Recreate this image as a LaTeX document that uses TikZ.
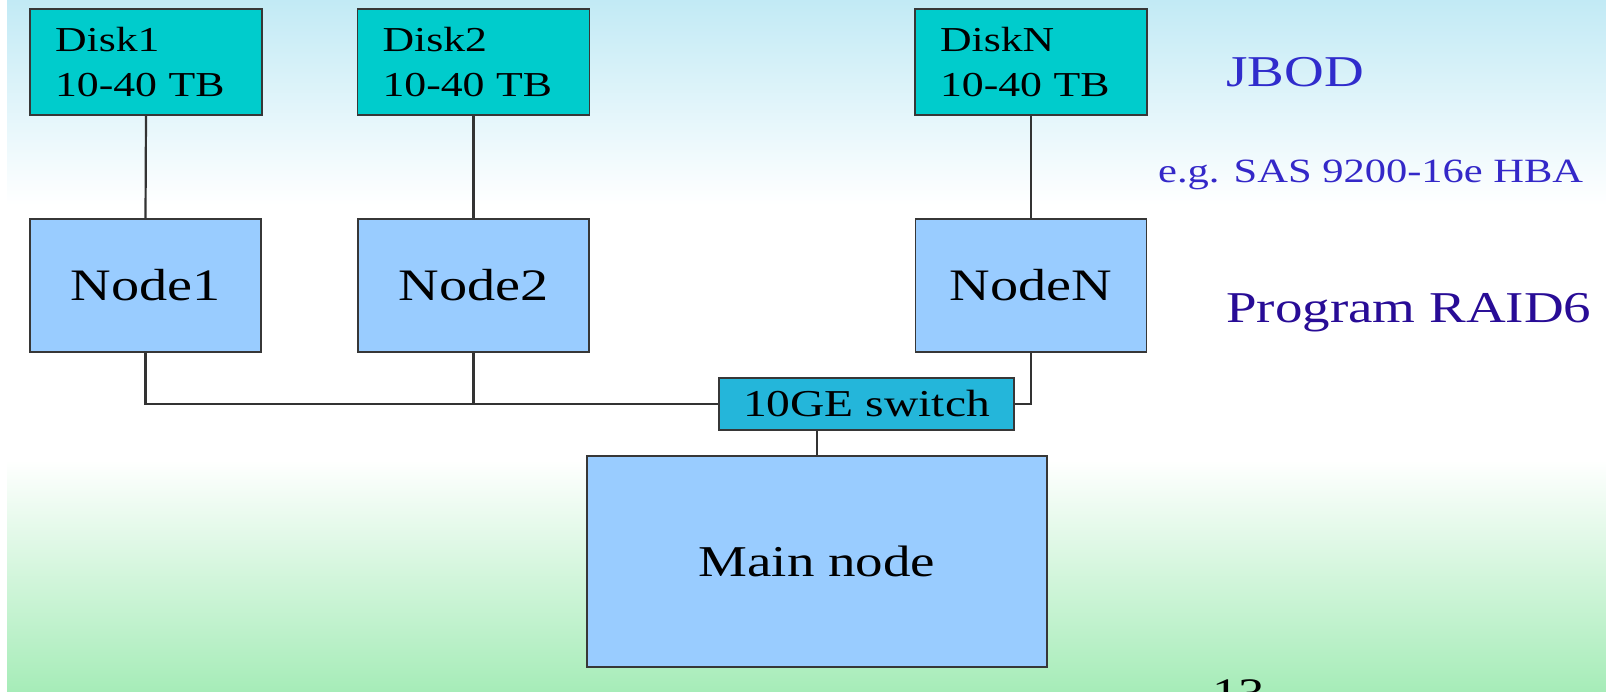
\documentclass[tikz,border=0pt]{standalone}
\usepackage{fontspec}
\newfontfamily\dfont[FakeStretch=1.25]{Liberation Serif}
\definecolor{diskc}{RGB}{0,204,204}
\definecolor{nodec}{RGB}{153,204,255}
\definecolor{swc}{RGB}{36,182,218}
\definecolor{edgec}{RGB}{55,55,55}
\definecolor{bgblue}{RGB}{194,234,245}
\definecolor{bggreen}{RGB}{166,236,184}
\definecolor{jbodc}{RGB}{48,44,204}
\definecolor{hbac}{RGB}{52,40,200}
\definecolor{raidc}{RGB}{40,12,150}
\tikzset{
  box/.style={draw=edgec, line width=1.8pt, inner sep=0pt},
  diskbox/.style={box, fill=diskc, minimum width=232pt, minimum height=106pt,
    text width=182pt, inner xsep=25pt, align=left,
    font=\dfont\fontsize{35}{45}\selectfont},
  nodebox/.style={box, fill=nodec, minimum width=231pt, minimum height=133pt,
    font=\dfont\fontsize{45}{50}\selectfont},
  swbox/.style={box, fill=swc, minimum width=295pt, minimum height=52pt,
    font=\dfont\fontsize{38}{42}\selectfont},
  mainbox/.style={box, fill=nodec, minimum width=460pt, minimum height=211pt,
    font=\dfont\fontsize{44}{50}\selectfont},
  wire/.style={draw=black!80, line width=2.2pt},
  side/.style={anchor=base west, inner sep=0pt}
}
\begin{document}
\begin{tikzpicture}[x=1pt,y=-1pt]
\clip (0,0) rectangle (1606,692);
\useasboundingbox (0,0) rectangle (1606,692);
% background
\fill[white] (0,0) rectangle (1606,692);
\shade[top color=bgblue, bottom color=white] (7,0) rectangle (1606,205);
\fill[white] (7,204) rectangle (1606,461);
\shade[top color=white, bottom color=bggreen] (7,460) rectangle (1606,692);
% disks
\node[diskbox] (disk1) at (146,62) {Disk1\\10-40 TB};
\node[diskbox] (disk2) at (473.5,62) {Disk2\\10-40 TB};
\node[diskbox] (diskN) at (1031,62) {DiskN\\10-40 TB};
% nodes
\node[nodebox] (node1) at (145.5,285.5) {Node1};
\node[nodebox] (node2) at (473.5,285.5) {Node2};
\node[nodebox] (nodeN) at (1031,285.5) {NodeN};
% switch and main
\node[swbox] (sw) at (866.5,404) {10GE switch};
\node[mainbox] (main) at (817,561.5) {Main node};
% wires
\draw[wire] (disk1.south) -- (node1.north);
\draw[wire] (disk2.south) -- (node2.north);
\draw[wire] (diskN.south) -- (nodeN.north);
\draw[wire] (node1.south) |- (sw.west);
\draw[wire] (node2.south) -- (node2.south |- sw.west);
\draw[wire] (nodeN.south) |- (sw.east);
\draw[wire] (main.north) -- (main.north |- sw.south);
% side labels
\node[side, text=jbodc, font=\dfont\fontsize{44}{50}\selectfont] (jbod) at (1226,87) {JBOD};
\node[side, text=hbac, font=\dfont\fontsize{34}{40}\selectfont] (hba) at (1158,183) {e.g. SAS 9200-16e HBA};
\node[side, text=raidc, font=\dfont\fontsize{44}{50}\selectfont] (raid) at (1226,323) {Program RAID6};
\node[side, text=black, font=\dfont\fontsize{42}{46}\selectfont] (pg) at (1212,707) {13};
\end{tikzpicture}
\end{document}
